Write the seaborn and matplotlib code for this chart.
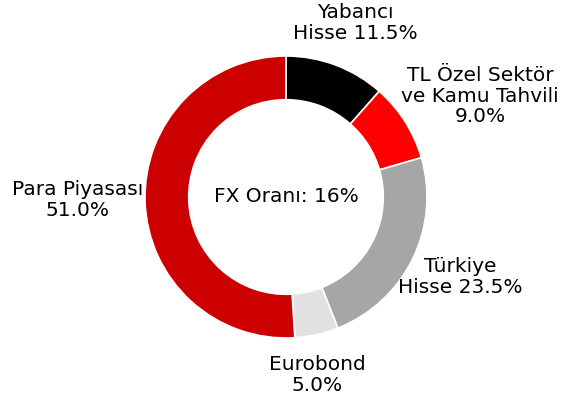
import numpy as np
import matplotlib
matplotlib.use("Agg")
import matplotlib.pyplot as plt
import seaborn as sns

sns.set_theme(style="white")
plt.rcParams['font.family'] = 'sans-serif'
plt.rcParams['font.sans-serif'] = ['DejaVu Sans']

categories = ["Yabancı\nHisse", "TL Özel Sektör\nve Kamu Tahvili", "Türkiye\nHisse", "Eurobond", "Para Piyasası"]
label_sep = [" ", "\n", " ", "\n", "\n"]
values = [11.5, 9.0, 23.5, 5.0, 51.0]
colors = ["#000000", "#ff0000", "#a6a6a6", "#e2e2e2", "#cc0000"]
center_text = "FX Oranı: 16%"
label_dist = [1.33, 1.55, 1.36, 1.28, 1.48]
label_rot = [-0.9, -4.9, 1.4, -2.7, -1.0]

fig = plt.figure(figsize=(5.79, 4.01), dpi=100)
ax = fig.add_axes([145/579, 63/401, 282/579, 282/401])
wedges, _ = ax.pie(values, colors=colors, startangle=90, counterclock=False,
                   radius=1.0, wedgeprops=dict(width=0.31, edgecolor="white", linewidth=1.2))
ax.set_xlim(-1, 1)
ax.set_ylim(-1, 1)
ax.set_aspect("equal")
ax.axis("off")

for w, cat, sep, v, d, r in zip(wedges, categories, label_sep, values, label_dist, label_rot):
    th = np.deg2rad((w.theta1 + w.theta2) / 2 + r)
    ax.text(d * np.cos(th), d * np.sin(th), f"{cat}{sep}{v:.1f}%",
            ha="center", va="center", color="black", clip_on=False,
            fontsize=14.5, linespacing=1.12)

ax.text(0, 0, center_text, ha="center", va="center", color="black", fontsize=14.5)

fig.savefig("out.png", dpi=100)
